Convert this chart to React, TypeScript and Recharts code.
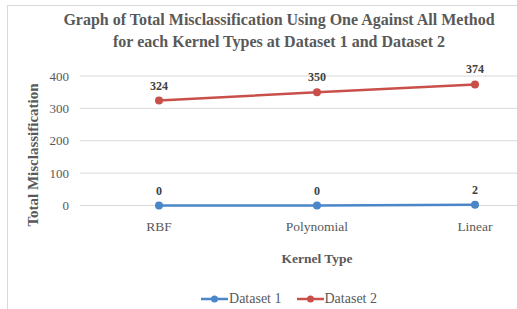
import React from 'react';
import { LineChart, Line, XAxis, YAxis, CartesianGrid, Legend, LabelList, Label } from 'recharts';

const kernels = ['RBF', 'Polynomial', 'Linear'];
const dataset1 = [0, 0, 2];
const dataset2 = [324, 350, 374];
const yTicks = [0, 100, 200, 300, 400];

const BLUE = '#4A86C8';
const RED = '#C9504A';
const TEXT = '#595959';
const FONT = 'Liberation Serif, Times New Roman, serif';

const data = kernels.map((k, i) => ({ kernel: k, d1: dataset1[i], d2: dataset2[i] }));

const LegendContent = () => (
  <div style={{ display: 'flex', justifyContent: 'center', alignItems: 'center', fontFamily: FONT, fontSize: 14, color: TEXT, height: 20 }}>
    {[{ name: 'Dataset 1', color: BLUE }, { name: 'Dataset 2', color: RED }].map((it, i) => (
      <div key={it.name} style={{ display: 'flex', alignItems: 'center', marginLeft: i ? 15 : 0 }}>
        <svg width={27} height={10}>
          <line x1={0} y1={5} x2={27} y2={5} stroke={it.color} strokeWidth={2.5} />
          <circle cx={13.5} cy={5} r={3.5} fill={it.color} />
        </svg>
        <span style={{ marginLeft: 1 }}>{it.name}</span>
      </div>
    ))}
  </div>
);

// rotated axis title, placed left of the tick labels
const YTitle = () => {
  const x = 32.5;
  const y = 155;
  return (
    <text x={x} y={y} transform={`rotate(-90, ${x}, ${y})`} textAnchor="middle" dominantBaseline="central"
      style={{ fontFamily: FONT, fontWeight: 'bold', fontSize: 15, fill: TEXT }}>
      Total Misclassification
    </text>
  );
};

const App: React.FC = () => {
  return (
    <div style={{ position: 'fixed', left: 0, top: 0, width: 517, height: 309, overflow: 'hidden', background: '#fff', fontFamily: FONT }}>
      <div style={{ position: 'absolute', left: 7, top: 5, width: 600, height: 400, borderLeft: '1px solid #D9D9D9', borderTop: '1px solid #D9D9D9' }} />
      <div style={{ position: 'absolute', left: 0, top: 9, width: 558, textAlign: 'center', fontFamily: FONT, fontWeight: 'bold', fontSize: 16, lineHeight: '21.5px', color: TEXT }}>
        Graph of Total Misclassification Using One Against All Method
        <br />
        for each Kernel Types at Dataset 1 and Dataset 2
      </div>
      <div style={{ position: 'absolute', left: 0, top: 0 }}>
        <LineChart width={560} height={309} data={data} margin={{ top: 76, right: 6, bottom: 23.5, left: 8 }} style={{ fontFamily: FONT }}>
          <CartesianGrid vertical={false} stroke="#D9D9D9" />
          <XAxis
            dataKey="kernel"
            axisLine={false}
            tickLine={false}
            height={60}
            tickMargin={10}
            padding={{ left: 79, right: 79 }}
            tick={{ fontSize: 13.5, fill: TEXT, style: { fontFamily: FONT } }}
          >
            <Label value="Kernel Type" position="insideBottom" offset={3} style={{ fontFamily: FONT, fontWeight: 'bold', fontSize: 13.5, fill: TEXT }} />
          </XAxis>
          <YAxis
            domain={[0, 400]}
            ticks={yTicks}
            axisLine={false}
            tickLine={false}
            width={72}
            tickMargin={5}
            tick={{ fontSize: 13, fill: TEXT, style: { fontFamily: FONT } }}
          >
            <Label content={<YTitle />} />
          </YAxis>
          <Legend verticalAlign="bottom" height={20} content={<LegendContent />} wrapperStyle={{ left: 9, width: 560, bottom: 0 }} />
          <Line dataKey="d1" name="Dataset 1" stroke={BLUE} strokeWidth={2.5} dot={{ r: 4, fill: BLUE, stroke: BLUE, strokeWidth: 0 }} isAnimationActive={false}>
            <LabelList dataKey="d1" position="top" offset={11} style={{ fontFamily: FONT, fontWeight: 'bold', fontSize: 12, fill: '#404040' }} />
          </Line>
          <Line dataKey="d2" name="Dataset 2" stroke={RED} strokeWidth={2.5} dot={{ r: 4, fill: RED, stroke: RED, strokeWidth: 0 }} isAnimationActive={false}>
            <LabelList dataKey="d2" position="top" offset={11} style={{ fontFamily: FONT, fontWeight: 'bold', fontSize: 12, fill: '#404040' }} />
          </Line>
        </LineChart>
      </div>
    </div>
  );
};

export default App;
